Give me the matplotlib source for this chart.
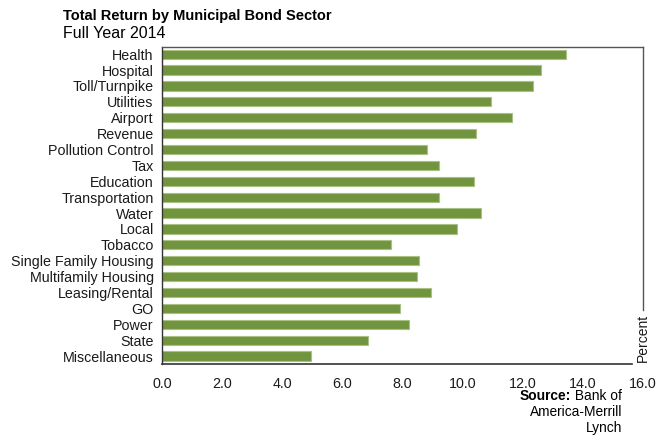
import matplotlib
matplotlib.use("Agg")
import matplotlib.pyplot as plt
from matplotlib.lines import Line2D

plt.rcParams['font.family'] = ['Liberation Sans', 'DejaVu Sans']

sectors = ["Health", "Hospital", "Toll/Turnpike", "Utilities", "Airport",
           "Revenue", "Pollution Control", "Tax", "Education", "Transportation",
           "Water", "Local", "Tobacco", "Single Family Housing",
           "Multifamily Housing", "Leasing/Rental", "GO", "Power", "State",
           "Miscellaneous"]
returns = [13.43, 12.60, 12.35, 10.96, 11.63, 10.46, 8.80, 9.20, 10.38, 9.20,
           10.60, 9.80, 7.63, 8.56, 8.48, 8.95, 7.91, 8.23, 6.84, 4.95]
xticks = [0, 2, 4, 6, 8, 10, 12, 14, 16]

fig = plt.figure(figsize=(6.66, 4.36), dpi=100)
ax = fig.add_axes([0.2432, 0.1651, 0.7223, 0.7271])

pos = list(range(len(sectors)))
ax.barh(pos, returns, height=0.58, color="#71953e",
        edgecolor="#a9c283", linewidth=0.8)

ax.set_ylim(len(sectors) - 0.5, -0.45)
ax.set_xlim(0, 16)
ax.set_yticks(pos)
ax.set_yticklabels(sectors, fontsize=10.3, color="#1a1a1a")
ax.set_xticks(xticks)
ax.set_xticklabels([f"{v:.1f}" for v in xticks], fontsize=10.3, color="#1a1a1a")
ax.tick_params(axis="both", length=0, pad=6)
ax.tick_params(axis="x", pad=9)

# frame: full top/left, short right, bottom stops before the unit label
for side in ["right", "bottom"]:
    ax.spines[side].set_visible(False)
ax.spines["top"].set_color("#555555")
ax.spines["left"].set_color("#333333")
for s in ["top", "left"]:
    ax.spines[s].set_linewidth(1.0)
ax.add_line(Line2D([0, 0.977], [0, 0], transform=ax.transAxes,
                   color="#333333", lw=1.2, clip_on=False))
ax.add_line(Line2D([1, 1], [0.17, 1], transform=ax.transAxes,
                   color="#555555", lw=1.0, clip_on=False))
ax.text(1.0, 0.005, "Percent", rotation=90, transform=ax.transAxes,
        ha="center", va="bottom", fontsize=10, color="#1a1a1a")

fig.text(63 / 666, 1 - 16 / 436, "Total Return by Municipal Bond Sector",
         fontsize=10.5, fontweight="bold", va="center", ha="left")
fig.text(63 / 666, 1 - 33 / 436, "Full Year 2014",
         fontsize=11.5, va="center", ha="left")

# source note, right aligned, with a bold lead word
src_x = 622 / 666
rest = fig.text(src_x, 1 - 396 / 436, " Bank of", fontsize=9.9,
                ha="right", va="center")
renderer = fig.canvas.get_renderer()
w = rest.get_window_extent(renderer).width / fig.bbox.width
fig.text(src_x - w, 1 - 396 / 436, "Source:", fontsize=9.9,
         fontweight="bold", ha="right", va="center")
fig.text(src_x, 1 - 412 / 436, "America-Merrill", fontsize=9.9,
         ha="right", va="center")
fig.text(src_x, 1 - 428 / 436, "Lynch", fontsize=9.9, ha="right", va="center")

fig.savefig("out.png", dpi=100)
